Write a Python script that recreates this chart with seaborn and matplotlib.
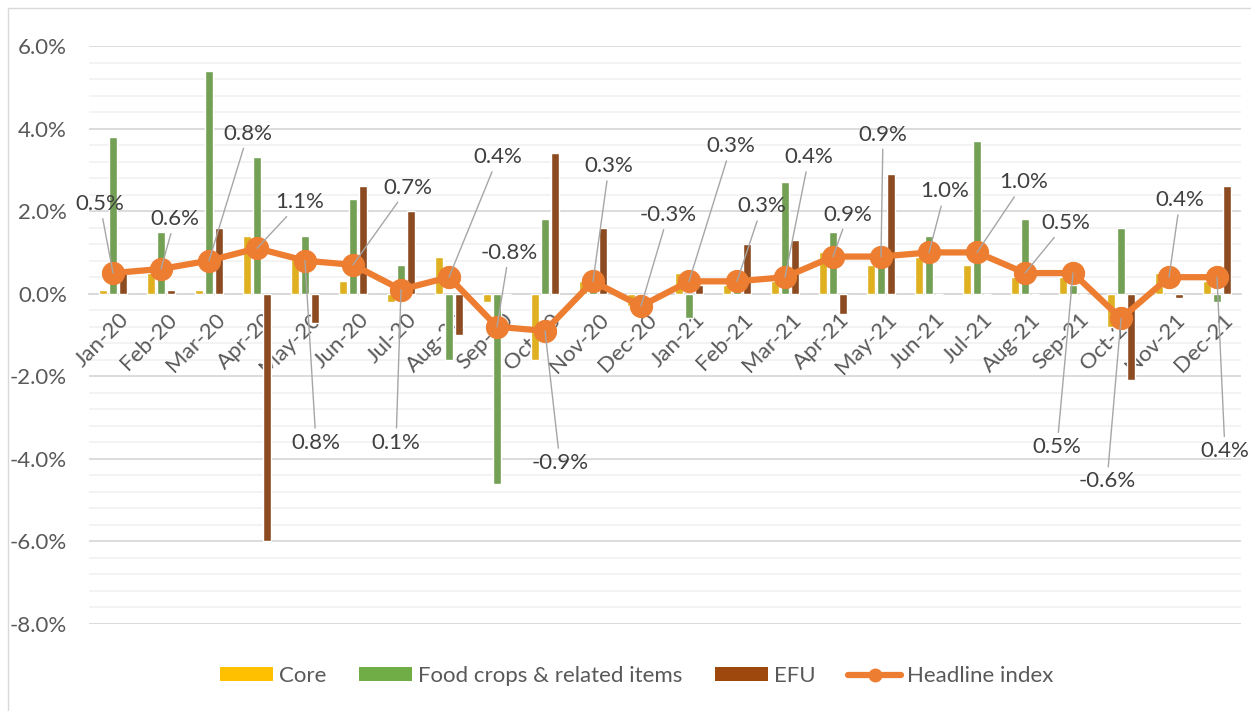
import numpy as np
import pandas as pd
import matplotlib
matplotlib.use('Agg')
import matplotlib.pyplot as plt
import matplotlib.transforms as mtrans
from matplotlib.patches import Patch, Rectangle
from matplotlib.lines import Line2D
import seaborn as sns

months = ['Jan-20', 'Feb-20', 'Mar-20', 'Apr-20', 'May-20', 'Jun-20', 'Jul-20', 'Aug-20',
          'Sep-20', 'Oct-20', 'Nov-20', 'Dec-20', 'Jan-21', 'Feb-21', 'Mar-21', 'Apr-21',
          'May-21', 'Jun-21', 'Jul-21', 'Aug-21', 'Sep-21', 'Oct-21', 'Nov-21', 'Dec-21']
core = [0.1, 0.5, 0.1, 1.4, 0.9, 0.3, -0.2, 0.9, -0.2, -1.6, 0.3, -0.3,
        0.5, 0.2, 0.3, 1.0, 0.7, 0.9, 0.7, 0.4, 0.4, -0.8, 0.5, 0.3]
food = [3.8, 1.5, 5.4, 3.3, 1.4, 2.3, 0.7, -1.6, -4.6, 1.8, 0.2, -0.1,
        -0.6, 0.2, 2.7, 1.5, 0.9, 1.4, 3.7, 1.8, 0.2, 1.6, 0.0, -0.2]
efu = [0.5, 0.1, 1.6, -6.0, -0.7, 2.6, 2.0, -1.0, 0.0, 3.4, 1.6, 0.0,
       0.2, 1.2, 1.3, -0.5, 2.9, 0.0, 0.0, 0.0, 0.0, -2.1, -0.1, 2.6]
headline = [0.5, 0.6, 0.8, 1.1, 0.8, 0.7, 0.1, 0.4, -0.8, -0.9, 0.3, -0.3,
            0.3, 0.3, 0.4, 0.9, 0.9, 1.0, 1.0, 0.5, 0.5, -0.6, 0.4, 0.4]
series_names = ['Core', 'Food crops & related items', 'EFU']
line_name = 'Headline index'

# label offsets from each headline marker, in pixels (dx, dy up)
label_offsets = [(-13, 69), (14, 50), (39, 127), (43, 46), (11, -182), (55, 77),
                 (-5, -153), (49, 120), (12, 74), (15, -132), (16, 115), (27, 91),
                 (42, 135), (25, 75), (24, 120), (15, 42), (2, 122), (16, 61),
                 (47, 70), (41, 50), (-16, -174), (-14, -163), (11, 77), (8, -174)]

colors = ['#FFC000', '#70AD47', '#9E480E']
line_color = '#ED7D31'
txt = '#595959'

df = pd.DataFrame({
    'month': months * 3,
    'value': core + food + efu,
    'series': [series_names[0]] * 24 + [series_names[1]] * 24 + [series_names[2]] * 24,
})

sns.set_theme(style='white')
plt.rcParams['font.family'] = ['Lato', 'DejaVu Sans']

fig, ax = plt.subplots(figsize=(12.51, 7.11), dpi=100)
fig.subplots_adjust(left=89 / 1251, right=1241 / 1251, top=1 - 46 / 711, bottom=1 - 624 / 711)

sns.barplot(data=df, x='month', y='value', hue='series', hue_order=series_names,
            palette=colors, width=0.62, gap=0.25, ax=ax, legend=False, zorder=2)
sns.lineplot(x=np.arange(len(months)), y=headline, color=line_color, lw=4.5,
             marker='o', markersize=16, markeredgecolor=line_color, ax=ax, zorder=3)

for i, (h, (dx, dy)) in enumerate(zip(headline, label_offsets)):
    ax.annotate(f'{h:.1f}%', xy=(i, h), xytext=(dx, dy), textcoords='offset pixels',
                ha='center', va='center', fontsize=16, color='#404040', zorder=4,
                arrowprops=dict(arrowstyle='-', color='#a6a6a6', lw=1, shrinkA=1, shrinkB=0))

ax.set_xlim(-0.5, len(months) - 0.5)
ax.set_ylim(-8, 6)
ax.set_xlabel('')
ax.set_ylabel('')

ax.set_yticks(np.arange(-8, 6.01, 2))
ax.set_yticks(np.arange(-8, 6.01, 0.4), minor=True)
ax.set_yticklabels([f'{v:.1f}%' for v in np.arange(-8, 6.01, 2)])
ax.grid(axis='y', which='major', color='#d9d9d9', lw=1.3, zorder=0)
ax.grid(axis='y', which='minor', color='#f2f2f2', lw=1.3, zorder=0)
ax.set_axisbelow(True)

# category labels sit under the zero line, rotated like Excel does
ax.set_xticks(np.arange(len(months)))
ax.set_xticks(np.arange(-0.5, len(months), 1), minor=True)
ax.set_xticklabels([''] * len(months))
offset = mtrans.ScaledTranslation(13 / 100, -23 / 100, fig.dpi_scale_trans)
for i, m in enumerate(months):
    ax.text(i, 0, m, rotation=45, ha='right', va='center', rotation_mode='anchor',
            fontsize=16, color=txt, transform=ax.transData + offset, zorder=1.5)

ax.tick_params(axis='x', which='major', length=0)
ax.tick_params(axis='x', which='minor', length=6, color='#d9d9d9', width=1.3, direction='out')
ax.tick_params(axis='y', which='both', length=0, pad=16, labelsize=16, labelcolor=txt)

for s in ['left', 'top', 'right']:
    ax.spines[s].set_visible(False)
ax.spines['bottom'].set_position(('data', 0))
ax.spines['bottom'].set_color('#d9d9d9')
ax.spines['bottom'].set_linewidth(1.3)
ax.spines['bottom'].set_zorder(1)

handles = [Patch(fc=c, ec='none') for c in colors]
handles.append(Line2D([], [], color=line_color, lw=4.5, marker='o', markersize=9))
fig.legend(handles, series_names + [line_name], loc='center', bbox_to_anchor=(0.509, 0.049),
           ncol=4, frameon=False, fontsize=16, handlelength=2.35, handleheight=0.6,
           columnspacing=1.5, handletextpad=0.27, labelcolor=txt)

fig.add_artist(Rectangle((8 / 1251, -0.1), 1.2, 1 - 8 / 711 + 0.1, transform=fig.transFigure,
                         fill=False, ec='#d9d9d9', lw=1))

plt.savefig('out.png', dpi=100)
